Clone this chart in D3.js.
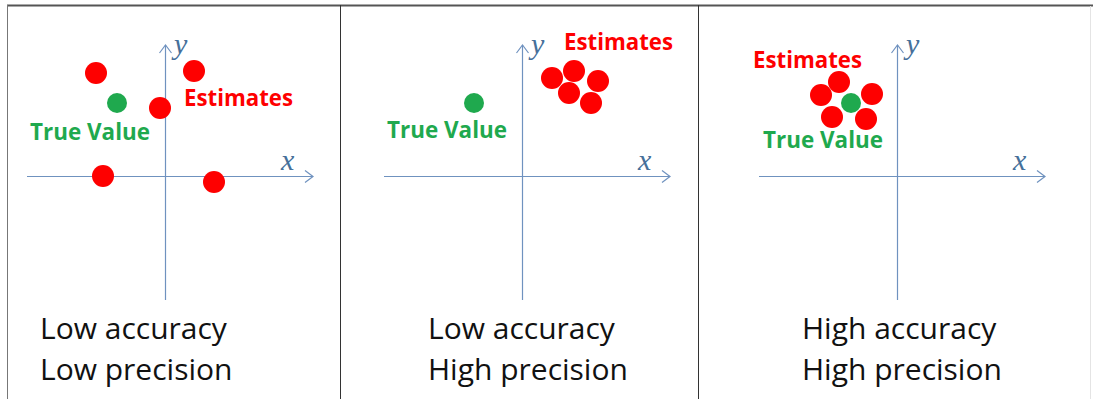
<!DOCTYPE html>
<html>
<head>
<meta charset="utf-8">
<script src="https://cdn.jsdelivr.net/npm/d3@7"></script>
<style>
  body { margin: 0; background: #fff; }
  svg { display: block; }
</style>
</head>
<body>
<script>
// bottom captions, one per panel
var accuracyLabels = ["Low accuracy", "Low accuracy", "High accuracy"];
var precisionLabels = ["Low precision", "High precision", "High precision"];

// estimates (red) per panel, in axis units relative to the origin
var estimates = [
  [[-3.45, 5.15], [1.45, 5.25], [-0.25, 3.4], [-3.1, 0.0], [2.45, -0.3]],
  [[1.5, 4.9], [2.6, 5.25], [3.8, 4.75], [2.35, 4.15], [3.45, 3.65]],
  [[-3.8, 4.05], [-2.9, 4.7], [-1.25, 4.1], [-3.25, 2.95], [-1.55, 2.85]]
];
// true value (green) per panel
var trueValues = [[-2.4, 3.65], [-2.4, 3.65], [-2.3, 3.65]];

// where the two annotations start (left, baseline), same units
var estimateLabelPos = [[0.95, 3.5], [2.1, 6.3], [-7.2, 5.4]];
var trueLabelPos = [[-6.75, 1.8], [-6.75, 1.9], [-6.7, 1.4]];

var width = 1093, height = 399;
var originX = [165, 522, 897];
var originY = 176;
var xExtent = [-6.9, 7.4], yExtent = [-6.2, 6.55];

var red = "#fe0000", green = "#1fa94e", axisColor = "#6f92bf", mathColor = "#46709a";

var svg = d3.select("body").append("svg")
  .attr("width", width)
  .attr("height", height);

// frame lines
svg.append("line").attr("x1", 7).attr("x2", width).attr("y1", 5.5).attr("y2", 5.5)
  .attr("stroke", "#555").attr("stroke-width", 2);
svg.append("line").attr("x1", 7.5).attr("x2", 7.5).attr("y1", 5).attr("y2", height)
  .attr("stroke", "#777").attr("stroke-width", 1);
[340.5, 698.5].forEach(function(x) {
  svg.append("line").attr("x1", x).attr("x2", x).attr("y1", 5).attr("y2", height)
    .attr("stroke", "#333").attr("stroke-width", 1);
});
svg.append("line").attr("x1", 1090.5).attr("x2", 1090.5).attr("y1", 6).attr("y2", height)
  .attr("stroke", "#e4e4e4").attr("stroke-width", 1);

originX.forEach(function(ox, i) {
  var xs = d3.scaleLinear().domain([-1, 1]).range([ox - 20, ox + 20]);
  var ys = d3.scaleLinear().domain([-1, 1]).range([originY + 20, originY - 20]);
  var g = svg.append("g");

  // axes
  var xl = xs(xExtent[0]), xr = xs(xExtent[1]);
  var yt = ys(yExtent[1]), yb = ys(yExtent[0]);
  g.append("line").attr("x1", xl).attr("x2", xr).attr("y1", ys(0) + 0.5).attr("y2", ys(0) + 0.5)
    .attr("stroke", axisColor).attr("stroke-width", 1.2);
  g.append("line").attr("x1", xs(0) + 0.5).attr("x2", xs(0) + 0.5).attr("y1", yt).attr("y2", yb)
    .attr("stroke", axisColor).attr("stroke-width", 1.2);
  // open arrow heads
  g.append("path")
    .attr("d", "M" + (xr - 8) + "," + (ys(0) - 5.5) + "L" + xr + "," + (ys(0) + 0.5) + "L" + (xr - 8) + "," + (ys(0) + 6.5))
    .attr("fill", "none").attr("stroke", axisColor).attr("stroke-width", 1.2);
  g.append("path")
    .attr("d", "M" + (xs(0) - 5.5) + "," + (yt + 8) + "L" + (xs(0) + 0.5) + "," + yt + "L" + (xs(0) + 6.5) + "," + (yt + 8))
    .attr("fill", "none").attr("stroke", axisColor).attr("stroke-width", 1.2);

  g.append("text").attr("x", xs(0) + 9).attr("y", yt + 9)
    .attr("font-family", "'Liberation Serif', serif").attr("font-style", "italic")
    .attr("font-size", 30).attr("fill", mathColor).text("y");
  g.append("text").attr("x", xs(0) + 116).attr("y", ys(0) - 6)
    .attr("font-family", "'Liberation Serif', serif").attr("font-style", "italic")
    .attr("font-size", 30).attr("fill", mathColor).text("x");

  // points
  g.selectAll("circle.est").data(estimates[i]).enter().append("circle")
    .attr("class", "est")
    .attr("cx", function(d) { return xs(d[0]); })
    .attr("cy", function(d) { return ys(d[1]); })
    .attr("r", 11)
    .attr("fill", red);
  g.append("circle")
    .attr("cx", xs(trueValues[i][0]))
    .attr("cy", ys(trueValues[i][1]))
    .attr("r", 10)
    .attr("fill", green);

  // annotations
  g.append("text")
    .attr("x", xs(estimateLabelPos[i][0])).attr("y", ys(estimateLabelPos[i][1]))
    .attr("font-family", "'Open Sans', sans-serif").attr("font-weight", "bold")
    .attr("font-size", 24).attr("fill", red)
    .attr("textLength", 109).attr("lengthAdjust", "spacingAndGlyphs")
    .text("Estimates");
  g.append("text")
    .attr("x", xs(trueLabelPos[i][0])).attr("y", ys(trueLabelPos[i][1]))
    .attr("font-family", "'Open Sans', sans-serif").attr("font-weight", "bold")
    .attr("font-size", 24).attr("fill", green)
    .attr("textLength", 120).attr("lengthAdjust", "spacingAndGlyphs")
    .text("True Value");
});

// captions
var captionX = [40, 428, 802];
captionX.forEach(function(x, i) {
  svg.append("text").attr("x", x).attr("y", 339)
    .attr("font-family", "'Open Sans', sans-serif").attr("font-size", 30).attr("fill", "#111")
    .text(accuracyLabels[i]);
  svg.append("text").attr("x", x).attr("y", 380)
    .attr("font-family", "'Open Sans', sans-serif").attr("font-size", 30).attr("fill", "#111")
    .text(precisionLabels[i]);
});
</script>
</body>
</html>
